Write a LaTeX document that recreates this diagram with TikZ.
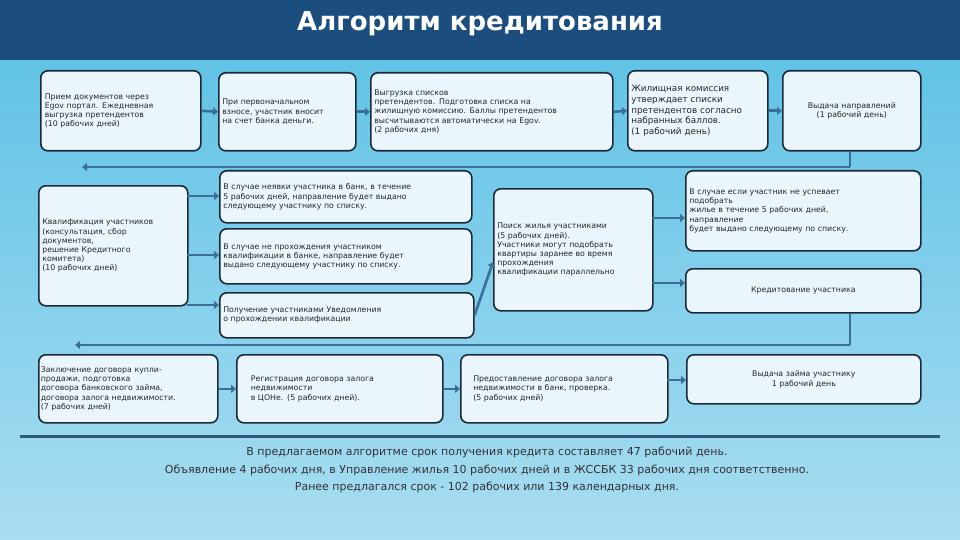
\documentclass[tikz,border=0pt]{standalone}
\usepackage{fontspec}
\setmainfont{DejaVu Sans}
\usetikzlibrary{arrows.meta}
\definecolor{topblue}{HTML}{1B4E7E}
\definecolor{lightA}{HTML}{62C3E6}
\definecolor{lightB}{HTML}{A9DDF1}
\definecolor{boxfill}{HTML}{EAF6FC}
\definecolor{boxline}{HTML}{1C2A38}
\definecolor{arr}{HTML}{3B6F98}
\tikzset{
 bx/.style={draw=boxline,line width=1.6pt,fill=boxfill,rounded corners=7pt,anchor=north west,inner sep=3pt,font=\fontsize{7.8}{9.2}\selectfont,align=left,text=black!85},
 ar/.style={arr,line width=2.6pt,-{Triangle[length=5pt,width=8pt]}},
 ln/.style={arr,line width=2.6pt}
}
\begin{document}
\begin{tikzpicture}[x=1pt,y=-1pt]
\useasboundingbox (0,0) rectangle (960,540);
\shade[top color=lightA,bottom color=lightB] (0,60) rectangle (960,540);
\fill[topblue] (0,0) rectangle (960,60);
\node[text=white,font=\fontsize{26}{30}\selectfont\bfseries] (title) at (480,24) {Алгоритм кредитования};
% row 1
\node[bx,minimum width=160pt,minimum height=80pt,text width=152pt] (b1) at (40,70) {Прием документов через\\Egov портал. Ежедневная\\выгрузка претендентов\\(10 рабочих дней)};
\node[bx,minimum width=137pt,minimum height=78pt,text width=130pt] (b2) at (218,72) {При первоначальном\\взносе, участник вносит\\на счет банка деньги.};
\node[bx,minimum width=242pt,minimum height=78pt,text width=235pt] (b3) at (370,72) {Выгрузка списков\\претендентов. Подготовка списка на\\жилищную комиссию.  Баллы претендентов\\высчитываются автоматически на Egov.\\(2 рабочих дня)};
\node[bx,minimum width=140pt,minimum height=80pt,text width=133pt,font=\fontsize{8.8}{10.8}\selectfont] (b4) at (627,70) {Жилищная комиссия\\утверждает списки\\претендентов согласно\\набранных баллов.\\(1 рабочий день)};
\node[bx,minimum width=138pt,minimum height=80pt,text width=131pt,align=center] (b5) at (782,70) {Выдача направлений\\(1 рабочий день)};
\draw[ar] (b1.east) -- (b2.west);
\draw[ar] (b2.east) -- (b3.west);
\draw[ar] (b3.east) -- (b4.west);
\draw[ar] (b4.east) -- (b5.west);
\coordinate (r1a) at (850,167);
\coordinate (r1b) at (82,167);
\draw[ln] (b5.south -| r1a) -- (r1a);
\draw[ar] (r1a) -- (r1b);
% row 2
\node[bx,minimum width=149pt,minimum height=120pt,text width=142pt] (b6) at (38,185) {Квалификация участников\\(консультация, сбор\\документов,\\ решение Кредитного\\комитета)\\(10 рабочих дней)};
\node[bx,minimum width=252pt,minimum height=52pt,text width=245pt] (b7) at (219,170) {В случае неявки участника в банк, в течение\\5 рабочих дней, направление будет выдано\\следующему участнику по списку.};
\node[bx,minimum width=252pt,minimum height=55pt,text width=245pt] (b8) at (219,228) {В случае не прохождения участником\\квалификации в банке, направление будет\\выдано следующему участнику по списку.};
\node[bx,minimum width=254pt,minimum height=45pt,text width=247pt] (b9) at (219,292) {Получение участниками Уведомления\\о прохождении квалификации};
\node[bx,minimum width=159pt,minimum height=122pt,text width=152pt] (b10) at (493,188) {Поиск жилья участниками\\(5 рабочих дней).\\Участники могут подобрать\\квартиры заранее во время\\прохождения\\квалификации параллельно};
\node[bx,minimum width=235pt,minimum height=80pt,text width=228pt] (b11) at (685,170) {В случае если участник не успевает\\подобрать\\жилье в течение 5 рабочих дней,\\направление\\будет выдано следующему  по списку.};
\node[bx,minimum width=235pt,minimum height=44pt,text width=228pt,align=center] (b12) at (685,268) {Кредитование участника};
\draw[ar] (187,196) -- (219,196);
\draw[ar] (187,255) -- (219,255);
\draw[ar] (187,305) -- (219,305);
\draw[ar] (b9.east) -- (493,262);
\draw[ar] (652,218) -- (685,218);
\draw[ar] (652,283) -- (685,283);
\coordinate (r2a) at (850,345);
\coordinate (r2b) at (75,345);
\draw[ln] (b12.south -| r2a) -- (r2a);
\draw[ar] (r2a) -- (r2b);
% row 3
\node[bx,minimum width=179pt,minimum height=68pt,text width=175pt,inner sep=1pt] (b13) at (38,354) {Заключение договора купли-\\продажи, подготовка\\договора банковского займа,\\договора залога недвижимости.\\(7 рабочих дней)};
\node[bx,minimum width=206pt,minimum height=68pt,text width=178pt,inner xsep=14pt] (b14) at (236,354) {Регистрация договора залога\\недвижимости\\в ЦОНе. (5 рабочих дней).};
\node[bx,minimum width=207pt,minimum height=68pt,text width=182pt,inner xsep=12pt] (b15) at (460,354) {Предоставление договора залога\\недвижимости в банк, проверка.\\(5 рабочих дней)};
\node[bx,minimum width=234pt,minimum height=49pt,text width=227pt,align=center] (b16) at (686,354) {Выдача займа участнику\\1 рабочий день};
\draw[ar] (b13.east) -- (b14.west);
\draw[ar] (b14.east) -- (b15.west);
\draw[ar] (667,380) -- (b16.west |- 0,380);
\coordinate (hl1) at (20,436);
\coordinate (hl2) at (940,436);
\draw[ln,line width=3pt,arr!80!black] (hl1) -- (hl2);
\node[font=\fontsize{11}{17.5}\selectfont,align=center,text=black!80] (sum) at (487,470) {В предлагаемом алгоритме срок получения кредита составляет 47 рабочий день.\\Объявление 4 рабочих дня, в Управление жилья 10 рабочих дней и в ЖССБК 33 рабочих дня соответственно.\\Ранее предлагался срок - 102 рабочих или 139 календарных дня.};
\end{tikzpicture}
\end{document}
